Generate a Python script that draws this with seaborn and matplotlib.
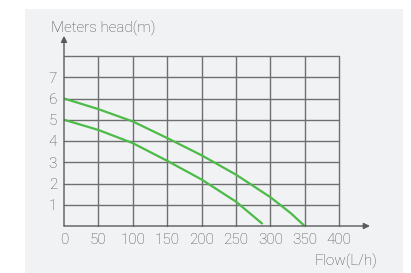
import pandas as pd
import numpy as np
import matplotlib.pyplot as plt
import seaborn as sns
from matplotlib.patches import Rectangle

# values
flow_high = [0, 50, 100, 150, 200, 250, 300, 330, 350]
head_high = [6.0, 5.5, 4.92, 4.14, 3.33, 2.42, 1.36, 0.6, 0.0]
flow_low = [0, 50, 100, 150, 200, 250, 288]
head_low = [5.0, 4.52, 3.9, 3.07, 2.19, 1.15, 0.12]
x_ticks = [0, 50, 100, 150, 200, 250, 300, 350, 400]
y_ticks = [1, 2, 3, 4, 5, 6, 7]

df = pd.concat([
    pd.DataFrame({'flow': flow_high, 'head': head_high, 'curve': 'high'}),
    pd.DataFrame({'flow': flow_low, 'head': head_low, 'curve': 'low'}),
])

sns.set_style('white')
plt.rcParams['font.family'] = ['Roboto', 'DejaVu Sans']

W, H = 411, 273
fig = plt.figure(figsize=(W / 100, H / 100), dpi=100)
fig.patch.set_facecolor('white')

# light grey panel behind the chart
bg = fig.add_axes([0, 0, 1, 1], zorder=-5)
bg.axis('off')
bg.add_patch(Rectangle((25 / W, 0), (403 - 25) / W, 1 - 9 / H,
                       transform=bg.transAxes, facecolor='#f1f2f4',
                       edgecolor='none'))

ax = fig.add_axes([64 / W, 1 - 226 / H, (339 - 64) / W, (226 - 56) / H])
ax.set_facecolor('none')

green = '#4cbb47'
sns.lineplot(data=df, x='flow', y='head', hue='curve', palette=[green, green],
             linewidth=1.6, legend=False, ax=ax, zorder=3, sort=False)

ax.set_xlim(0, 400)
ax.set_ylim(0, 8)
grid_c = '#6f6f6f'
for v in x_ticks[1:]:
    ax.plot([v, v], [0, 8], color=grid_c, lw=1.0, zorder=1, clip_on=False)
for v in range(1, 9):
    ax.plot([0, 400], [v, v], color=grid_c, lw=1.0, zorder=1, clip_on=False)

for s in ax.spines.values():
    s.set_visible(False)

axis_c = '#5a5a5a'
ax.annotate('', xy=(445, 0), xytext=(0, 0), annotation_clip=False,
            arrowprops=dict(arrowstyle='-|>', color=axis_c, lw=1.0,
                            mutation_scale=9, shrinkA=0, shrinkB=0))
ax.annotate('', xy=(0, 8.95), xytext=(0, 0), annotation_clip=False,
            arrowprops=dict(arrowstyle='-|>', color=axis_c, lw=1.0,
                            mutation_scale=9, shrinkA=0, shrinkB=0))

txt_c = '#4f4f4f'
ax.set_xticks(x_ticks)
ax.set_yticks(y_ticks)
ax.tick_params(length=0, labelsize=11, labelcolor=txt_c, pad=5)
ax.tick_params(axis='y', pad=5)
for lab in ax.get_xticklabels() + ax.get_yticklabels():
    lab.set_fontweight('light')
ax.set_xlabel('')
ax.set_ylabel('')

fig.text(51 / W, 1 - 28 / H, 'Meters head(m)', fontsize=11, color=txt_c,
         ha='left', va='center', fontweight='light')
fig.text(377 / W, 1 - 261 / H, 'Flow(L/h)', fontsize=11, color=txt_c,
         ha='right', va='center', fontweight='light')

fig.savefig('out.png', dpi=100, facecolor='white')
